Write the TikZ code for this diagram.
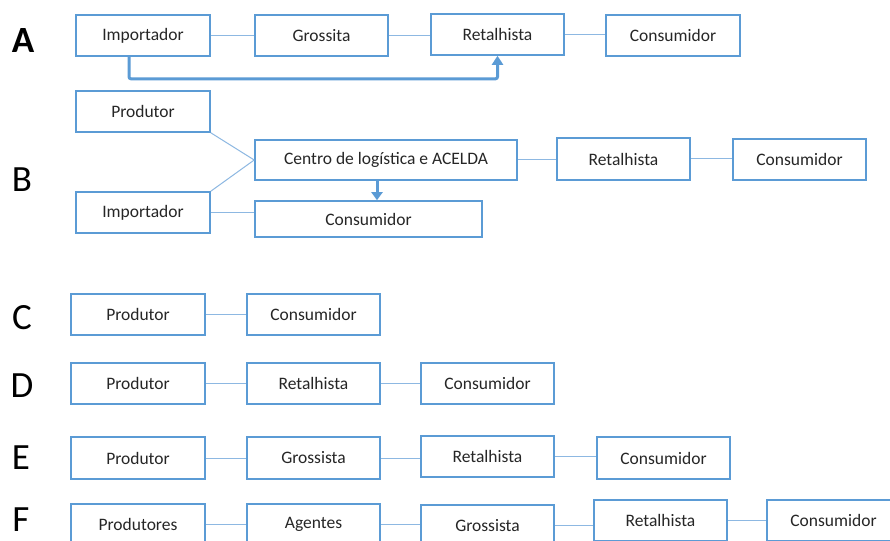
\documentclass[tikz,border=0pt]{standalone}
\usepackage{fontspec}
\setmainfont{Carlito}
\usetikzlibrary{arrows.meta}
\definecolor{bblue}{HTML}{5B9BD5}
\definecolor{lblue}{HTML}{8DB8E2}
\tikzset{
  bx/.style={draw=bblue, line width=1.6pt, fill=white, inner sep=0pt, minimum width=133pt, minimum height=41pt, font=\fontsize{17.5}{19}\selectfont, text=black!85},
  ln/.style={draw=lblue, line width=1pt},
  arr/.style={draw=bblue, line width=3pt, -{Triangle[width=11pt,length=9pt]}},
  lab/.style={font=\fontsize{37}{40}\selectfont, text=black, inner sep=0pt}
}
\begin{document}
\begin{tikzpicture}[x=1pt,y=-1pt]
\useasboundingbox (0,0) rectangle (890,540);
\clip (0,0) rectangle (890,540);
\fill[white] (0,0) rectangle (890,540);
% labels
\node[lab, font=\fontsize{37}{40}\selectfont\bfseries] (LA) at (23,41) {A};
\node[lab] (LB) at (22,180) {B};
\node[lab] (LC) at (22,318) {C};
\node[lab] (LD) at (22,386) {D};
\node[lab] (LE) at (21,458) {E};
\node[lab] (LF) at (21,520) {F};
% A
\node[bx, minimum width=134pt] (A1) at (143,35.5) {Importador};
\node[bx] (A2) at (321.5,35.5) {Grossita};
\node[bx] (A3) at (497.5,34.5) {Retalhista};
\node[bx, minimum width=134pt] (A4) at (673,35.5) {Consumidor};
\draw[ln] (A1) -- (A2);
\draw[ln] (A2.east) -- (A3.west |- A2.east);
\draw[ln] (A3.east) -- (A4.west |- A3.east);
\draw[arr, rounded corners=2pt] ([xshift=-14pt]A1.south) -- ++(0,22) -| (A3.south);
% B
\node[bx, minimum width=134pt] (B1) at (143,111.5) {Produtor};
\node[bx, minimum width=262pt, minimum height=40pt] (B2) at (386,160) {Centro de logística e ACELDA};
\node[bx, minimum height=42pt] (B3) at (623.5,159) {Retalhista};
\node[bx] (B4) at (799.5,159.5) {Consumidor};
\node[bx, minimum width=134pt] (B5) at (143,212.5) {Importador};
\node[bx, minimum width=227pt, minimum height=36pt] (B6) at (368.5,219) {Consumidor};
\draw[ln] (B1.south east) -- (B2.west);
\draw[ln] (B5.north east) -- (B2.west);
\draw[ln] (B5.east) -- (B6.west |- B5.east);
\draw[ln] (B2.east) -- (B3.west |- B2.east);
\draw[ln] (B3.east) -- (B4.west |- B3.east);
\draw[arr, -{Triangle[width=11pt,length=8pt]}] ([xshift=-9pt]B2.south) -- ([xshift=-9pt]B2.south |- B6.north);
% C
\node[bx, minimum width=134pt] (C1) at (138,314.5) {Produtor};
\node[bx] (C2) at (313.5,314.5) {Consumidor};
\draw[ln] (C1) -- (C2);
% D
\node[bx, minimum width=134pt] (D1) at (138,383.5) {Produtor};
\node[bx] (D2) at (313.5,383.5) {Retalhista};
\node[bx] (D3) at (487.5,383.5) {Consumidor};
\draw[ln] (D1) -- (D2);
\draw[ln] (D2) -- (D3);
% E
\node[bx, minimum width=134pt, minimum height=42pt] (E1) at (138,458) {Produtor};
\node[bx, minimum height=42pt] (E2) at (313.5,458) {Grossista};
\node[bx] (E3) at (487.5,456.5) {Retalhista};
\node[bx, minimum height=42pt] (E4) at (663.5,458) {Consumidor};
\draw[ln] (E1) -- (E2);
\draw[ln] (E2.east) -- (E3.west |- E2.east);
\draw[ln] (E3.east) -- (E4.west |- E3.east);
% F
\node[bx, minimum width=134pt] (F1) at (138,524.5) {Produtores};
\node[bx] (F2) at (313.5,524.5) {Agentes};
\node[bx] (F3) at (487.5,525.5) {Grossista};
\node[bx] (F4) at (660.5,520.5) {Retalhista};
\node[bx] (F5) at (833.5,520.5) {Consumidor};
\draw[ln] (F1) -- (F2);
\draw[ln] (F2.east) -- (F3.west |- F2.east);
\draw[ln] (F3.east) -- (F4.west |- F3.east);
\draw[ln] (F4.east) -- (F5.west |- F4.east);
\end{tikzpicture}
\end{document}
